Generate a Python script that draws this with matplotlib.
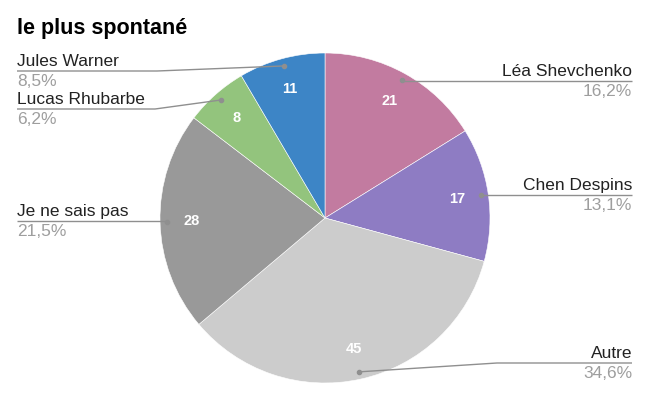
import matplotlib
matplotlib.use("Agg")
import matplotlib.pyplot as plt
import numpy as np

plt.rcParams['font.family'] = ['Liberation Sans', 'DejaVu Sans']

title = "le plus spontané"
categories = ["Léa Shevchenko", "Chen Despins", "Autre", "Je ne sais pas", "Lucas Rhubarbe", "Jules Warner"]
values = [21, 17, 45, 28, 8, 11]
colors = ["#c27ba0", "#8e7cc3", "#cccccc", "#999999", "#93c47d", "#3d85c6"]

# label layout (pixel space): side, y of leader line, knee x (None = straight)
layout = {
    "Léa Shevchenko": ("right", 81, None),
    "Chen Despins": ("right", 195, None),
    "Autre": ("right", 363, 497),
    "Je ne sais pas": ("left", 221, None),
    "Lucas Rhubarbe": ("left", 109, 155),
    "Jules Warner": ("left", 71, 157),
}

W, H = 648, 399
fig = plt.figure(figsize=(W / 100, H / 100), dpi=100)
ax = fig.add_axes([0, 0, 1, 1])


def Y(py):
    return H - py


cx, cy, R = 325, 218, 165
total = sum(values)

wedges, texts, autotexts = ax.pie(
    values, colors=colors, startangle=90, counterclock=False,
    center=(cx, Y(cy)), radius=R,
    autopct=lambda p: f"{p * total / 100:.0f}", pctdistance=0.81,
    wedgeprops=dict(edgecolor='white', linewidth=0.4),
)
for t in autotexts:
    t.set_color('white')
    t.set_fontweight('bold')
    t.set_fontsize(10.5)

ax.set_xlim(0, W)
ax.set_ylim(0, H)
ax.set_aspect('equal')
ax.axis('off')

line_col = '#8f8f8f'
for w, name, v in zip(wedges, categories, values):
    mid = np.deg2rad((w.theta1 + w.theta2) / 2)
    dx = cx + 0.955 * R * np.cos(mid)
    dy = Y(cy) + 0.955 * R * np.sin(mid)
    side, ly, knee = layout[name]
    ly_d = Y(ly)
    kx = dx if knee is None else knee
    if side == "right":
        xs = [dx, kx, 632]
        tx, ha = 632, 'right'
    else:
        xs = [dx, kx, 17]
        tx, ha = 17, 'left'
    ax.plot(xs, [dy, ly_d, ly_d], color=line_col, lw=1, solid_capstyle='butt', zorder=3)
    ax.plot([dx], [dy], 'o', color=line_col, ms=3, zorder=4)
    pct = f"{v / total * 100:.1f}".replace('.', ',') + "%"
    ax.text(tx, Y(ly - 5), name, ha=ha, va='baseline', fontsize=12.5, color='#222222')
    ax.text(tx, Y(ly + 15), pct, ha=ha, va='baseline', fontsize=12.5, color='#9e9e9e')

ax.text(17, Y(34), title, ha='left', va='baseline', fontsize=15.5, fontweight='bold', color='#000000')

fig.savefig("out.png", dpi=100)
